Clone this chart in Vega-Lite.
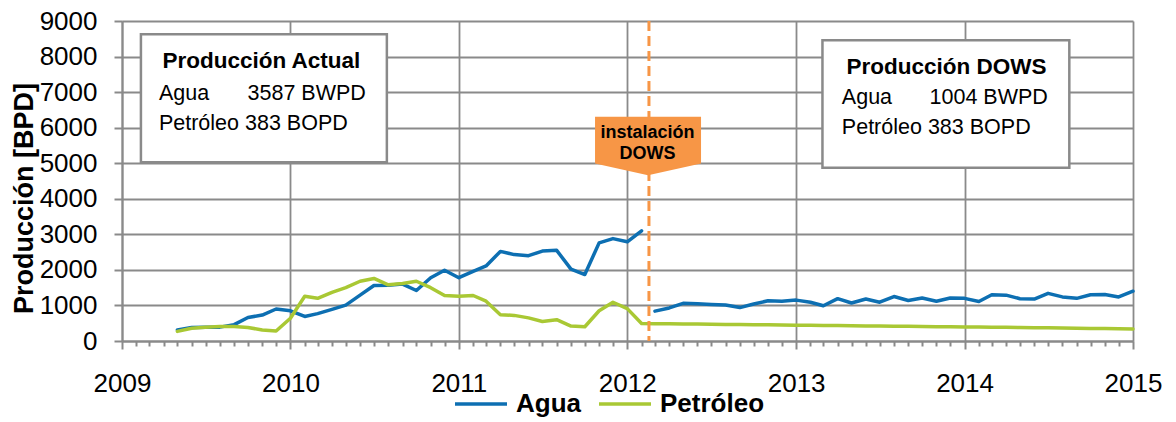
{
  "$schema": "https://vega.github.io/schema/vega-lite/v6.json",
  "width": 1011,
  "height": 320,
  "autosize": {"type": "none"},
  "padding": {"left": 122, "top": 21, "right": 43, "bottom": 81},
  "background": "white",
  "config": {
    "view": {"stroke": null},
    "font": "Liberation Sans, Arial, sans-serif",
    "axis": {
      "labelFont": "Liberation Sans, Arial, sans-serif",
      "titleFont": "Liberation Sans, Arial, sans-serif",
      "labelColor": "#000000",
      "titleColor": "#000000",
      "domainColor": "#8a8a8a",
      "domainWidth": 2,
      "tickColor": "#8a8a8a",
      "tickWidth": 2,
      "gridColor": "#8a8a8a",
      "gridWidth": 1.8
    }
  },
  "datasets": {
    "prod": [
      {"date": "2009-05-01", "serie": "Agua", "seg": "A1", "value": 310},
      {"date": "2009-06-01", "serie": "Agua", "seg": "A1", "value": 380},
      {"date": "2009-07-01", "serie": "Agua", "seg": "A1", "value": 390},
      {"date": "2009-08-01", "serie": "Agua", "seg": "A1", "value": 390},
      {"date": "2009-09-01", "serie": "Agua", "seg": "A1", "value": 460},
      {"date": "2009-10-01", "serie": "Agua", "seg": "A1", "value": 660},
      {"date": "2009-11-01", "serie": "Agua", "seg": "A1", "value": 730},
      {"date": "2009-12-01", "serie": "Agua", "seg": "A1", "value": 900},
      {"date": "2010-01-01", "serie": "Agua", "seg": "A1", "value": 850},
      {"date": "2010-02-01", "serie": "Agua", "seg": "A1", "value": 690},
      {"date": "2010-03-01", "serie": "Agua", "seg": "A1", "value": 770},
      {"date": "2010-04-01", "serie": "Agua", "seg": "A1", "value": 890},
      {"date": "2010-05-01", "serie": "Agua", "seg": "A1", "value": 1010},
      {"date": "2010-06-01", "serie": "Agua", "seg": "A1", "value": 1290},
      {"date": "2010-07-01", "serie": "Agua", "seg": "A1", "value": 1560},
      {"date": "2010-08-01", "serie": "Agua", "seg": "A1", "value": 1570},
      {"date": "2010-09-01", "serie": "Agua", "seg": "A1", "value": 1600},
      {"date": "2010-10-01", "serie": "Agua", "seg": "A1", "value": 1420},
      {"date": "2010-11-01", "serie": "Agua", "seg": "A1", "value": 1780},
      {"date": "2010-12-01", "serie": "Agua", "seg": "A1", "value": 1990},
      {"date": "2011-01-01", "serie": "Agua", "seg": "A1", "value": 1780},
      {"date": "2011-02-01", "serie": "Agua", "seg": "A1", "value": 1960},
      {"date": "2011-03-01", "serie": "Agua", "seg": "A1", "value": 2110},
      {"date": "2011-04-01", "serie": "Agua", "seg": "A1", "value": 2520},
      {"date": "2011-05-01", "serie": "Agua", "seg": "A1", "value": 2430},
      {"date": "2011-06-01", "serie": "Agua", "seg": "A1", "value": 2400},
      {"date": "2011-07-01", "serie": "Agua", "seg": "A1", "value": 2530},
      {"date": "2011-08-01", "serie": "Agua", "seg": "A1", "value": 2550},
      {"date": "2011-09-01", "serie": "Agua", "seg": "A1", "value": 2020},
      {"date": "2011-10-01", "serie": "Agua", "seg": "A1", "value": 1870},
      {"date": "2011-11-01", "serie": "Agua", "seg": "A1", "value": 2760},
      {"date": "2011-12-01", "serie": "Agua", "seg": "A1", "value": 2880},
      {"date": "2012-01-01", "serie": "Agua", "seg": "A1", "value": 2790},
      {"date": "2012-02-01", "serie": "Agua", "seg": "A1", "value": 3100},
      {"date": "2012-03-01", "serie": "Agua", "seg": "A2", "value": 840},
      {"date": "2012-04-01", "serie": "Agua", "seg": "A2", "value": 930},
      {"date": "2012-05-01", "serie": "Agua", "seg": "A2", "value": 1060},
      {"date": "2012-06-01", "serie": "Agua", "seg": "A2", "value": 1050},
      {"date": "2012-07-01", "serie": "Agua", "seg": "A2", "value": 1030},
      {"date": "2012-08-01", "serie": "Agua", "seg": "A2", "value": 1010},
      {"date": "2012-09-01", "serie": "Agua", "seg": "A2", "value": 940},
      {"date": "2012-10-01", "serie": "Agua", "seg": "A2", "value": 1040},
      {"date": "2012-11-01", "serie": "Agua", "seg": "A2", "value": 1130},
      {"date": "2012-12-01", "serie": "Agua", "seg": "A2", "value": 1120},
      {"date": "2013-01-01", "serie": "Agua", "seg": "A2", "value": 1150},
      {"date": "2013-02-01", "serie": "Agua", "seg": "A2", "value": 1090},
      {"date": "2013-03-01", "serie": "Agua", "seg": "A2", "value": 990},
      {"date": "2013-04-01", "serie": "Agua", "seg": "A2", "value": 1190},
      {"date": "2013-05-01", "serie": "Agua", "seg": "A2", "value": 1070},
      {"date": "2013-06-01", "serie": "Agua", "seg": "A2", "value": 1180},
      {"date": "2013-07-01", "serie": "Agua", "seg": "A2", "value": 1090},
      {"date": "2013-08-01", "serie": "Agua", "seg": "A2", "value": 1250},
      {"date": "2013-09-01", "serie": "Agua", "seg": "A2", "value": 1140},
      {"date": "2013-10-01", "serie": "Agua", "seg": "A2", "value": 1210},
      {"date": "2013-11-01", "serie": "Agua", "seg": "A2", "value": 1120},
      {"date": "2013-12-01", "serie": "Agua", "seg": "A2", "value": 1210},
      {"date": "2014-01-01", "serie": "Agua", "seg": "A2", "value": 1200},
      {"date": "2014-02-01", "serie": "Agua", "seg": "A2", "value": 1110},
      {"date": "2014-03-01", "serie": "Agua", "seg": "A2", "value": 1300},
      {"date": "2014-04-01", "serie": "Agua", "seg": "A2", "value": 1290},
      {"date": "2014-05-01", "serie": "Agua", "seg": "A2", "value": 1190},
      {"date": "2014-06-01", "serie": "Agua", "seg": "A2", "value": 1180},
      {"date": "2014-07-01", "serie": "Agua", "seg": "A2", "value": 1340},
      {"date": "2014-08-01", "serie": "Agua", "seg": "A2", "value": 1240},
      {"date": "2014-09-01", "serie": "Agua", "seg": "A2", "value": 1200},
      {"date": "2014-10-01", "serie": "Agua", "seg": "A2", "value": 1300},
      {"date": "2014-11-01", "serie": "Agua", "seg": "A2", "value": 1310},
      {"date": "2014-12-01", "serie": "Agua", "seg": "A2", "value": 1240},
      {"date": "2015-01-01", "serie": "Agua", "seg": "A2", "value": 1400},
      {"date": "2009-05-01", "serie": "Petróleo", "seg": "P", "value": 270},
      {"date": "2009-06-01", "serie": "Petróleo", "seg": "P", "value": 360},
      {"date": "2009-07-01", "serie": "Petróleo", "seg": "P", "value": 390},
      {"date": "2009-08-01", "serie": "Petróleo", "seg": "P", "value": 410},
      {"date": "2009-09-01", "serie": "Petróleo", "seg": "P", "value": 410},
      {"date": "2009-10-01", "serie": "Petróleo", "seg": "P", "value": 380},
      {"date": "2009-11-01", "serie": "Petróleo", "seg": "P", "value": 310},
      {"date": "2009-12-01", "serie": "Petróleo", "seg": "P", "value": 280},
      {"date": "2010-01-01", "serie": "Petróleo", "seg": "P", "value": 640},
      {"date": "2010-02-01", "serie": "Petróleo", "seg": "P", "value": 1260},
      {"date": "2010-03-01", "serie": "Petróleo", "seg": "P", "value": 1200},
      {"date": "2010-04-01", "serie": "Petróleo", "seg": "P", "value": 1370},
      {"date": "2010-05-01", "serie": "Petróleo", "seg": "P", "value": 1500},
      {"date": "2010-06-01", "serie": "Petróleo", "seg": "P", "value": 1680},
      {"date": "2010-07-01", "serie": "Petróleo", "seg": "P", "value": 1760},
      {"date": "2010-08-01", "serie": "Petróleo", "seg": "P", "value": 1580},
      {"date": "2010-09-01", "serie": "Petróleo", "seg": "P", "value": 1620},
      {"date": "2010-10-01", "serie": "Petróleo", "seg": "P", "value": 1680},
      {"date": "2010-11-01", "serie": "Petróleo", "seg": "P", "value": 1500},
      {"date": "2010-12-01", "serie": "Petróleo", "seg": "P", "value": 1280},
      {"date": "2011-01-01", "serie": "Petróleo", "seg": "P", "value": 1260},
      {"date": "2011-02-01", "serie": "Petróleo", "seg": "P", "value": 1280},
      {"date": "2011-03-01", "serie": "Petróleo", "seg": "P", "value": 1120},
      {"date": "2011-04-01", "serie": "Petróleo", "seg": "P", "value": 740},
      {"date": "2011-05-01", "serie": "Petróleo", "seg": "P", "value": 720},
      {"date": "2011-06-01", "serie": "Petróleo", "seg": "P", "value": 650},
      {"date": "2011-07-01", "serie": "Petróleo", "seg": "P", "value": 550},
      {"date": "2011-08-01", "serie": "Petróleo", "seg": "P", "value": 600},
      {"date": "2011-09-01", "serie": "Petróleo", "seg": "P", "value": 420},
      {"date": "2011-10-01", "serie": "Petróleo", "seg": "P", "value": 400},
      {"date": "2011-11-01", "serie": "Petróleo", "seg": "P", "value": 850},
      {"date": "2011-12-01", "serie": "Petróleo", "seg": "P", "value": 1090},
      {"date": "2012-01-01", "serie": "Petróleo", "seg": "P", "value": 910},
      {"date": "2012-02-01", "serie": "Petróleo", "seg": "P", "value": 490},
      {"date": "2012-03-01", "serie": "Petróleo", "seg": "P", "value": 488},
      {"date": "2012-04-01", "serie": "Petróleo", "seg": "P", "value": 484},
      {"date": "2012-05-01", "serie": "Petróleo", "seg": "P", "value": 480},
      {"date": "2012-06-01", "serie": "Petróleo", "seg": "P", "value": 475},
      {"date": "2012-07-01", "serie": "Petróleo", "seg": "P", "value": 470},
      {"date": "2012-08-01", "serie": "Petróleo", "seg": "P", "value": 466},
      {"date": "2012-09-01", "serie": "Petróleo", "seg": "P", "value": 462},
      {"date": "2012-10-01", "serie": "Petróleo", "seg": "P", "value": 458},
      {"date": "2012-11-01", "serie": "Petróleo", "seg": "P", "value": 455},
      {"date": "2012-12-01", "serie": "Petróleo", "seg": "P", "value": 450},
      {"date": "2013-01-01", "serie": "Petróleo", "seg": "P", "value": 445},
      {"date": "2013-02-01", "serie": "Petróleo", "seg": "P", "value": 441},
      {"date": "2013-03-01", "serie": "Petróleo", "seg": "P", "value": 437},
      {"date": "2013-04-01", "serie": "Petróleo", "seg": "P", "value": 433},
      {"date": "2013-05-01", "serie": "Petróleo", "seg": "P", "value": 429},
      {"date": "2013-06-01", "serie": "Petróleo", "seg": "P", "value": 425},
      {"date": "2013-07-01", "serie": "Petróleo", "seg": "P", "value": 420},
      {"date": "2013-08-01", "serie": "Petróleo", "seg": "P", "value": 416},
      {"date": "2013-09-01", "serie": "Petróleo", "seg": "P", "value": 412},
      {"date": "2013-10-01", "serie": "Petróleo", "seg": "P", "value": 408},
      {"date": "2013-11-01", "serie": "Petróleo", "seg": "P", "value": 404},
      {"date": "2013-12-01", "serie": "Petróleo", "seg": "P", "value": 400},
      {"date": "2014-01-01", "serie": "Petróleo", "seg": "P", "value": 396},
      {"date": "2014-02-01", "serie": "Petróleo", "seg": "P", "value": 392},
      {"date": "2014-03-01", "serie": "Petróleo", "seg": "P", "value": 388},
      {"date": "2014-04-01", "serie": "Petróleo", "seg": "P", "value": 384},
      {"date": "2014-05-01", "serie": "Petróleo", "seg": "P", "value": 379},
      {"date": "2014-06-01", "serie": "Petróleo", "seg": "P", "value": 375},
      {"date": "2014-07-01", "serie": "Petróleo", "seg": "P", "value": 370},
      {"date": "2014-08-01", "serie": "Petróleo", "seg": "P", "value": 365},
      {"date": "2014-09-01", "serie": "Petróleo", "seg": "P", "value": 360},
      {"date": "2014-10-01", "serie": "Petróleo", "seg": "P", "value": 355},
      {"date": "2014-11-01", "serie": "Petróleo", "seg": "P", "value": 350},
      {"date": "2014-12-01", "serie": "Petróleo", "seg": "P", "value": 345},
      {"date": "2015-01-01", "serie": "Petróleo", "seg": "P", "value": 340}
    ],
    "boxes": [
      {"date": "2009-02-11", "date2": "2010-07-29", "value": 8625, "value2": 5025},
      {"date": "2013-02-27", "date2": "2014-08-16", "value": 8456, "value2": 4876}
    ],
    "titles": [
      {"date": "2009-10-30", "value": 7670, "label": "Producción Actual"},
      {"date": "2013-11-23", "value": 7520, "label": "Producción DOWS"}
    ],
    "body": [
      {"date": "2009-03-22", "value": 6778, "label": "Agua"},
      {"date": "2009-09-30", "value": 6778, "label": "3587 BWPD"},
      {"date": "2009-03-22", "value": 5934, "label": "Petróleo 383 BOPD"},
      {"date": "2013-04-10", "value": 6656, "label": "Agua"},
      {"date": "2013-10-17", "value": 6656, "label": "1004 BWPD"},
      {"date": "2013-04-10", "value": 5813, "label": "Petróleo 383 BOPD"}
    ],
    "dows": [
      {"date": "2012-02-17", "value": 9000, "value2": 0}
    ],
    "callout": [
      {"date": "2012-02-15", "value": 5480}
    ],
    "callouttext": [
      {"date": "2012-02-14", "value": 5720, "label": "instalación"},
      {"date": "2012-02-14", "value": 5129, "label": "DOWS"}
    ]
  },
  "encoding": {
    "x": {
      "field": "date",
      "type": "temporal",
      "scale": {
        "type": "utc",
        "nice": false,
        "domain": [
          {"year": 2009, "month": 1, "date": 1, "utc": true},
          {"year": 2015, "month": 1, "date": 1, "utc": true}
        ]
      },
      "axis": {
        "title": null,
        "tickCount": {"interval": "month", "step": 1},
        "labelExpr": "utcmonth(datum.value) == 0 ? utcFormat(datum.value, '%Y') : ''",
        "labelOverlap": false,
        "labelBound": false,
        "labelFlush": false,
        "labelFontSize": 26,
        "labelPadding": 21,
        "grid": true,
        "gridOpacity": {"condition": {"test": "utcmonth(datum.value) == 0", "value": 1}, "value": 0},
        "tickSize": {"condition": {"test": "utcmonth(datum.value) == 0", "value": 8}, "value": 5}
      }
    },
    "y": {
      "field": "value",
      "type": "quantitative",
      "scale": {"domain": [0, 9000], "nice": false},
      "axis": {
        "title": "Producción [BPD]",
        "titleFontSize": 27,
        "titleFontWeight": "bold",
        "titleAngle": -90,
        "titleX": -90,
        "titleY": 177,
        "titleAlign": "center",
        "titleBaseline": "alphabetic",
        "values": [0, 1000, 2000, 3000, 4000, 5000, 6000, 7000, 8000, 9000],
        "labelOverlap": false,
        "labelBound": false,
        "labelFlush": false,
        "format": "d",
        "labelFontSize": 26,
        "labelPadding": 17,
        "tickSize": 8,
        "grid": true
      }
    }
  },
  "layer": [
    {
      "data": {"name": "prod"},
      "mark": {"type": "line", "strokeWidth": 3.5, "strokeJoin": "round", "strokeCap": "round"},
      "encoding": {
        "color": {
          "field": "serie",
          "type": "nominal",
          "scale": {"domain": ["Agua", "Petróleo"], "range": ["#0D6FB2", "#A9C834"]},
          "legend": {
            "title": null,
            "orient": "none",
            "direction": "horizontal",
            "legendX": 331,
            "legendY": 355,
            "symbolType": "stroke",
            "symbolSize": 2704,
            "symbolStrokeWidth": 3.5,
            "labelFontSize": 26,
            "labelFontWeight": "bold",
            "labelColor": "#000000",
            "labelOffset": 7,
            "columnPadding": 11,
            "padding": 0
          }
        },
        "detail": {"field": "seg"}
      }
    },
    {
      "data": {"name": "dows"},
      "mark": {"type": "rule", "color": "#F79646", "strokeWidth": 3, "strokeDash": [10, 5]},
      "encoding": {
        "y2": {"field": "value2"}
      }
    },
    {
      "data": {"name": "boxes"},
      "mark": {"type": "rect", "fill": "white", "stroke": "#8a8a8a", "strokeWidth": 2.5},
      "encoding": {
        "x2": {"field": "date2"},
        "y2": {"field": "value2"}
      }
    },
    {
      "data": {"name": "titles"},
      "mark": {"type": "text", "fontSize": 22.5, "fontWeight": "bold", "align": "center", "baseline": "alphabetic", "color": "#000000"},
      "encoding": {
        "text": {"field": "label"}
      }
    },
    {
      "data": {"name": "body"},
      "mark": {"type": "text", "fontSize": 21.5, "align": "left", "baseline": "alphabetic", "color": "#000000"},
      "encoding": {
        "text": {"field": "label"}
      }
    },
    {
      "data": {"name": "callout"},
      "mark": {
        "type": "point",
        "filled": true,
        "fill": "#F79646",
        "opacity": 1,
        "strokeWidth": 0,
        "size": 11236,
        "shape": "M-1,-0.553 L1,-0.553 L1,0.327 L0,0.547 L-1,0.327 Z"
      },
      "encoding": {}
    },
    {
      "data": {"name": "callouttext"},
      "mark": {"type": "text", "fontSize": 18, "fontWeight": "bold", "align": "center", "baseline": "alphabetic", "color": "#000000"},
      "encoding": {
        "text": {"field": "label"}
      }
    }
  ]
}
